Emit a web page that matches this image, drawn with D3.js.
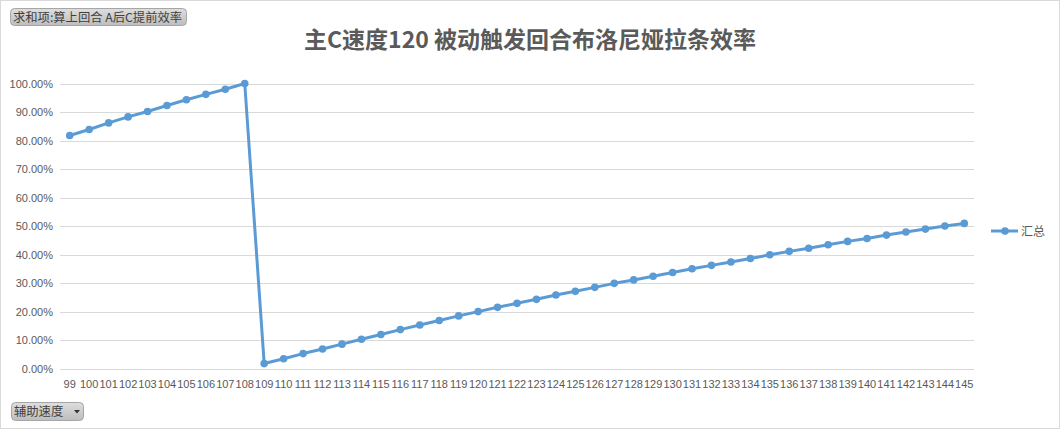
<!DOCTYPE html>
<html><head><meta charset="utf-8">
<script src="https://cdn.jsdelivr.net/npm/d3@7/dist/d3.min.js"></script>
<style>body{margin:0;background:#fff}svg{display:block}</style>
</head><body>
<svg id="c" width="1060" height="429"></svg>
<script>
const categories = [99,100,101,102,103,104,105,106,107,108,109,110,111,112,113,114,115,116,117,118,119,120,121,122,123,124,125,126,127,128,129,130,131,132,133,134,135,136,137,138,139,140,141,142,143,144,145];
const values = [81.8,83.9,86.2,88.3,90.2,92.3,94.3,96.2,98.0,100.0,
  1.9,3.6,5.4,7.0,8.7,10.4,12.1,13.8,15.4,17.0,18.6,20.1,21.6,23.0,24.4,25.9,27.2,28.6,30.0,31.2,32.5,33.8,35.1,36.3,37.5,38.7,40.0,41.2,42.3,43.5,44.7,45.7,46.9,48.0,49.0,50.1,51.0];
const yTicks = [0,10,20,30,40,50,60,70,80,90,100];
const title = "主C速度120 被动触发回合布洛尼娅拉条效率";
const seriesName = "汇总";
const filterLabel = "求和项:算上回合 A后C提前效率";
const axisButton = "辅助速度";

(function(){
const svg = d3.select("#c");
const font = "'Liberation Sans', Arial, 'Noto Sans CJK SC', sans-serif";
const grey = "#595959";
const blue = "#5b9bd5";

svg.append("rect").attr("x",0.5).attr("y",0.5).attr("width",1059).attr("height",428)
  .attr("fill","#fff").attr("stroke","#d9d9d9");

const pL = 60, pR = 974, pT = 83.5, pB = 369;
const x = d3.scaleBand().domain(categories).range([pL,pR]);
const y = d3.scaleLinear().domain([0,100]).range([pB,pT]);

// gridlines
svg.append("g").selectAll("line").data(yTicks).join("line")
  .attr("x1",pL).attr("x2",pR)
  .attr("y1",d=>Math.round(y(d))+0.5).attr("y2",d=>Math.round(y(d))+0.5)
  .attr("stroke","#d9d9d9").attr("stroke-width",1);

// y axis labels
const yAxis = d3.axisLeft(y).tickValues(yTicks).tickSize(0).tickPadding(0)
  .tickFormat(d=>d.toFixed(2)+"%");
const gy = svg.append("g").attr("transform",`translate(${pL-7},0)`).call(yAxis);
gy.select(".domain").remove();
gy.selectAll("text").attr("font-family",font).attr("font-size",11).attr("fill",grey);

// x axis labels
const xAxis = d3.axisBottom(x).tickSize(0).tickPadding(0);
const gx = svg.append("g").attr("transform",`translate(0,${pB+11})`).call(xAxis);
gx.select(".domain").remove();
gx.selectAll("text").attr("font-family",font).attr("font-size",11).attr("fill",grey);

// line
const cx = d=>x(d)+x.bandwidth()/2;
const line = d3.line().x((d,i)=>cx(categories[i])).y(d=>y(d));
svg.append("path").datum(values).attr("d",line).attr("fill","none")
  .attr("stroke",blue).attr("stroke-width",3).attr("stroke-linejoin","round");
svg.append("g").selectAll("circle").data(values).join("circle")
  .attr("cx",(d,i)=>cx(categories[i])).attr("cy",d=>y(d)).attr("r",3.8).attr("fill",blue);

// title
svg.append("text").attr("x",530).attr("y",48).attr("text-anchor","middle")
  .attr("font-family","'Noto Sans CJK SC', sans-serif").attr("font-size",23).attr("font-weight","bold")
  .attr("fill","#5a5a5a").text(title);

// legend
svg.append("line").attr("x1",991).attr("x2",1018).attr("y1",231).attr("y2",231)
  .attr("stroke",blue).attr("stroke-width",3);
svg.append("circle").attr("cx",1005).attr("cy",231).attr("r",3.8).attr("fill",blue);
svg.append("text").attr("x",1021).attr("y",235.5).attr("font-family","'Noto Sans CJK SC', sans-serif")
  .attr("font-size",12).attr("fill",grey).text(seriesName);

// filter buttons
const grad = svg.append("defs").append("linearGradient").attr("id","btn").attr("x1",0).attr("y1",0).attr("x2",0).attr("y2",1);
grad.append("stop").attr("offset","0%").attr("stop-color","#dedede");
grad.append("stop").attr("offset","100%").attr("stop-color","#bdbdbd");

const b1 = svg.append("g");
b1.append("rect").attr("x",10.5).attr("y",8.5).attr("width",176).attr("height",17).attr("rx",4)
  .attr("fill","url(#btn)").attr("stroke","#a6a6a6");
b1.append("text").attr("x",13).attr("y",21.5).attr("font-family","'Noto Sans CJK SC', sans-serif")
  .attr("font-size",12.3).attr("fill","#404040").text(filterLabel);

const b2 = svg.append("g");
b2.append("rect").attr("x",11.5).attr("y",402.5).attr("width",72).attr("height",18).attr("rx",4)
  .attr("fill","url(#btn)").attr("stroke","#a6a6a6");
b2.append("text").attr("x",14).attr("y",416).attr("font-family","'Noto Sans CJK SC', sans-serif")
  .attr("font-size",12.3).attr("fill","#404040").text(axisButton);
b2.append("path").attr("d","M74,410 L80,410 L77,413.5 Z").attr("fill","#333");
})();
</script>
</body></html>
